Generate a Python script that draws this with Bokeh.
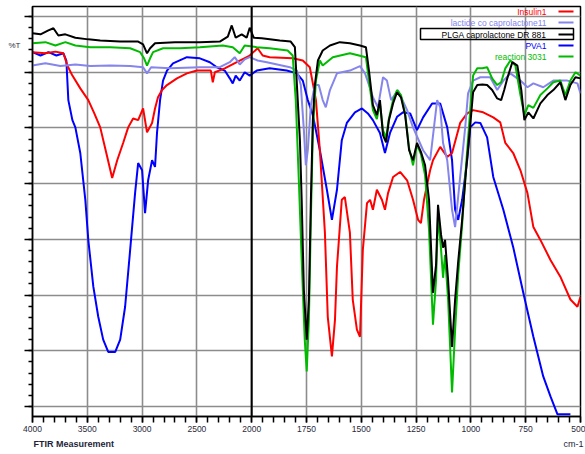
import numpy as np
from bokeh.plotting import figure
from bokeh.models import Range1d, FixedTicker, Span, Label, BoxAnnotation, ColumnDataSource
from bokeh.embed import file_html
from bokeh.resources import INLINE

# Wavenumber ticks of the split FTIR axis (scale doubles below 2000 cm-1)
tick_wavenumbers = [4000, 3500, 3000, 2500, 2000, 1750, 1500, 1250, 1000, 750, 500]

# Insulin1
insulin_wn = [4000, 3882, 3791, 3718, 3682, 3636, 3564, 3491, 3436, 3382, 3318, 3273, 3227, 3173,
              3127, 3082, 3036, 2991, 2955, 2909, 2882, 2855, 2818, 2773, 2682, 2591, 2500, 2409,
              2373, 2355, 2336, 2246, 2109, 2018, 1973, 1950, 1918, 1813, 1767, 1735, 1721, 1707,
              1689, 1666, 1653, 1634, 1620, 1611, 1589, 1575, 1552, 1539, 1520, 1506, 1493, 1474,
              1460, 1447, 1429, 1406, 1392, 1378, 1355, 1323, 1291, 1264, 1241, 1228, 1214, 1186,
              1173, 1140, 1108, 1086, 1049, 1017, 990, 944, 898, 866, 843, 807, 774, 742, 715, 683,
              637, 592, 546, 514, 500]
insulin_t = [63.6, 63.4, 63.7, 63.4, 61.2, 59.4, 57.1, 55.0, 52.6, 50.1, 44.8, 41.0, 44.2, 47.3,
             50.1, 51.7, 51.4, 53.5, 49.2, 50.9, 53.5, 55.5, 56.8, 57.7, 58.9, 59.8, 60.3, 60.3,
             60.3, 58.2, 60.0, 60.7, 62.1, 63.0, 64.3, 63.0, 62.7, 62.5, 62.1, 60.9, 58.0, 55.0,
             46.0, 31.2, 16.1, 9.0, 15.6, 25.1, 37.1, 37.6, 31.2, 19.2, 13.8, 12.5, 28.1, 36.5,
             37.1, 35.3, 38.9, 37.1, 35.3, 38.3, 41.2, 42.1, 40.6, 37.1, 33.5, 32.9, 37.1, 42.4,
             44.2, 46.6, 44.8, 45.5, 50.9, 52.6, 53.2, 52.8, 51.9, 51.0, 47.3, 45.5, 42.4, 38.3,
             32.2, 29.9, 26.3, 23.3, 19.2, 17.9, 19.7]

# lactide co caprolactone11
lactide_wn = [4000, 3882, 3745, 3609, 3473, 3291, 3109, 2991, 2955, 2918, 2745, 2473, 2291, 2200,
              2155, 2109, 2064, 2018, 1973, 1931, 1826, 1794, 1776, 1762, 1753, 1744, 1730, 1712,
              1694, 1676, 1662, 1643, 1611, 1552, 1506, 1483, 1465, 1447, 1424, 1401, 1383, 1364,
              1333, 1291, 1264, 1218, 1186, 1154, 1140, 1127, 1108, 1086, 1072, 1049, 1026, 1013,
              990, 957, 912, 880, 852, 820, 774, 742, 715, 670, 624, 560, 514, 500]
lactide_t = [61.2, 61.6, 61.1, 61.4, 61.1, 61.2, 61.1, 60.9, 59.8, 60.9, 60.7, 60.9, 60.9, 61.8,
             62.7, 61.4, 62.3, 62.7, 62.1, 61.8, 60.9, 60.3, 57.7, 49.6, 43.3, 46.0, 54.1, 57.7,
             57.7, 55.0, 53.7, 56.8, 59.8, 60.3, 61.1, 59.8, 57.7, 55.5, 53.7, 59.1, 58.5, 55.0,
             56.8, 53.2, 50.1, 46.0, 44.2, 55.0, 53.7, 47.3, 44.2, 35.3, 32.2, 41.2, 50.1, 56.2,
             58.5, 59.1, 59.1, 56.8, 58.5, 59.8, 58.5, 57.3, 58.0, 57.3, 58.5, 58.5, 58.0, 56.2]

# PLGA caprolactone DR 881
plga_wn = [4000, 3927, 3855, 3809, 3764, 3700, 3609, 3491, 3382, 3200, 3036, 2991, 2955, 2927,
           2882, 2700, 2473, 2291, 2218, 2182, 2146, 2091, 2046, 2018, 1991, 1954, 1872, 1822,
           1803, 1790, 1780, 1772, 1762, 1749, 1739, 1730, 1721, 1712, 1698, 1676, 1643, 1598,
           1552, 1506, 1479, 1465, 1447, 1429, 1415, 1401, 1387, 1374, 1355, 1337, 1319, 1300,
           1282, 1264, 1246, 1228, 1209, 1191, 1173, 1159, 1150, 1136, 1127, 1118, 1104, 1086,
           1072, 1058, 1040, 1022, 1003, 990, 971, 948, 926, 903, 880, 862, 848, 834, 811, 788,
           770, 756, 738, 715, 683, 651, 624, 592, 569, 546, 523, 500]
plga_t = [67.0, 66.8, 67.5, 67.9, 66.6, 66.8, 66.2, 65.9, 65.7, 65.5, 65.5, 65.0, 63.4, 64.3,
          65.2, 65.4, 65.4, 65.5, 66.4, 68.4, 66.2, 66.8, 66.2, 68.0, 66.2, 66.1, 65.7, 65.5,
          64.5, 55.0, 47.8, 37.1, 20.9, 12.0, 19.2, 37.1, 51.4, 57.7, 62.1, 63.9, 64.8, 65.4,
          65.2, 64.8, 64.5, 60.3, 54.1, 52.3, 55.0, 48.7, 47.4, 51.4, 54.4, 56.4, 55.5, 52.3,
          46.0, 44.2, 47.3, 45.7, 43.3, 37.1, 20.4, 25.4, 36.2, 30.8, 28.5, 29.9, 22.7, 10.7,
          19.2, 26.0, 33.5, 42.4, 50.5, 56.4, 57.7, 57.8, 57.7, 56.8, 55.3, 55.0, 56.8, 58.9,
          61.8, 61.2, 56.8, 51.4, 52.8, 51.7, 54.4, 55.9, 56.8, 58.2, 55.0, 57.7, 59.1, 58.9]

# PVA1
pva_wn = [4000, 3927, 3855, 3782, 3718, 3691, 3673, 3636, 3609, 3564, 3518, 3491, 3445, 3400,
          3355, 3309, 3245, 3200, 3155, 3109, 3064, 3036, 3000, 2973, 2945, 2909, 2882, 2864,
          2836, 2809, 2773, 2718, 2591, 2473, 2382, 2318, 2246, 2200, 2173, 2146, 2109, 2064,
          2018, 1977, 1918, 1840, 1794, 1767, 1744, 1721, 1689, 1657, 1634, 1611, 1589, 1566,
          1529, 1497, 1470, 1447, 1415, 1392, 1369, 1337, 1310, 1277, 1246, 1218, 1177, 1140,
          1108, 1086, 1072, 1058, 1040, 1017, 1003, 980, 957, 926, 898, 852, 807, 761, 715, 670,
          637, 605, 546]
pva_t = [63.6, 63.0, 63.6, 63.0, 63.4, 62.1, 55.0, 51.4, 50.1, 45.5, 37.1, 29.9, 21.5, 16.1,
         12.0, 9.8, 9.8, 12.0, 17.9, 28.1, 38.3, 43.7, 42.4, 34.7, 40.6, 44.2, 43.0, 49.1,
         55.0, 58.5, 60.3, 61.6, 62.7, 62.5, 61.8, 60.9, 60.3, 58.9, 58.0, 59.4, 58.5, 60.0,
         59.4, 60.3, 60.7, 60.3, 59.8, 58.5, 55.0, 52.3, 46.0, 38.9, 33.5, 38.9, 47.8, 50.9,
         52.8, 53.5, 52.6, 51.4, 49.1, 45.5, 49.1, 52.0, 52.8, 52.6, 49.6, 51.9, 54.4, 54.4,
         50.1, 44.2, 35.3, 33.5, 37.1, 44.2, 50.1, 51.0, 50.9, 48.3, 41.2, 35.3, 28.6, 20.4,
         12.5, 5.4, 1.8, -1.4, -1.4]

# reaction 3031
reaction_wn = [4000, 3882, 3791, 3700, 3609, 3473, 3291, 3109, 3018, 2982, 2955, 2927, 2900, 2809,
               2655, 2473, 2264, 2173, 2109, 2064, 1977, 1918, 1836, 1813, 1799, 1785, 1772, 1758,
               1749, 1739, 1730, 1721, 1707, 1689, 1676, 1630, 1552, 1479, 1465, 1447, 1429, 1415,
               1401, 1387, 1374, 1355, 1337, 1319, 1300, 1282, 1264, 1246, 1228, 1209, 1191, 1173,
               1159, 1150, 1136, 1127, 1118, 1104, 1086, 1072, 1058, 1040, 1022, 1003, 990, 971,
               948, 926, 903, 880, 862, 843, 820, 797, 774, 756, 738, 715, 683, 651, 624, 592, 569,
               546, 523, 500]
reaction_t = [65.2, 65.4, 64.8, 65.4, 64.8, 64.5, 64.5, 64.3, 63.6, 62.5, 61.2, 62.5, 63.6, 64.3,
              64.3, 64.5, 64.8, 64.5, 63.4, 64.8, 64.5, 64.3, 63.9, 63.0, 55.0, 40.6, 26.3, 12.0,
              6.3, 15.6, 33.5, 49.6, 58.5, 62.1, 61.2, 62.7, 63.4, 62.7, 58.5, 53.2, 51.6, 54.4,
              49.6, 48.2, 51.7, 55.0, 56.8, 55.9, 52.6, 46.4, 43.3, 47.0, 45.3, 41.5, 31.7, 14.7,
              22.7, 34.4, 28.1, 23.1, 27.2, 19.2, 2.5, 13.8, 23.6, 32.6, 43.3, 53.2, 59.4, 60.7,
              60.7, 60.9, 58.9, 57.7, 58.2, 60.7, 62.1, 61.2, 55.9, 52.3, 54.1, 53.6, 55.9, 57.1,
              58.2, 58.5, 55.9, 58.5, 60.0, 59.4]

series = [
    ("Insulin1", insulin_wn, insulin_t, "#ff0000"),
    ("lactide co caprolactone11", lactide_wn, lactide_t, "#8585ec"),
    ("PLGA caprolactone DR 881", plga_wn, plga_t, "#000000"),
    ("PVA1", pva_wn, pva_t, "#0000ff"),
    ("reaction 3031", reaction_wn, reaction_t, "#00bb00"),
]


def axis_pos(w):
    """Map wavenumber onto the split axis: 1 unit per cm-1 above 2000, 2 below."""
    w = np.asarray(w, dtype=float)
    return np.where(w >= 2000, 4000 - w, 2000 + 2 * (2000 - w))


p = figure(width=585, height=454, output_backend="svg", toolbar_location=None,
           x_range=Range1d(0, 5000), y_range=Range1d(-1.8, 71.8),
           min_border_left=32, min_border_right=5, min_border_top=6, min_border_bottom=37)
p.outline_line_color = "black"
p.outline_line_width = 1.5
p.background_fill_color = "white"

major_pos = [float(v) for v in axis_pos(tick_wavenumbers)]
p.xaxis.ticker = FixedTicker(ticks=major_pos, minor_ticks=list(range(0, 5001, 100)))
p.xaxis.major_label_overrides = {pos: str(w) for pos, w in zip(major_pos, tick_wavenumbers)}
p.xaxis.major_label_text_font_size = "8.5px"
p.xaxis.major_label_text_font = "Liberation Sans"
p.xaxis.major_label_text_color = "#2a2a3a"
p.xaxis.major_label_standoff = 3
p.xaxis.major_tick_out = 6
p.xaxis.minor_tick_out = 6
p.xaxis.major_tick_in = 0
p.xaxis.minor_tick_in = 0
p.xaxis.axis_line_width = 1.5
p.xaxis.major_tick_line_width = 1.5
p.xaxis.minor_tick_line_width = 1.5

y_major = list(range(0, 71, 10))
p.yaxis.ticker = FixedTicker(ticks=y_major, minor_ticks=list(range(0, 72, 2)))
p.yaxis.major_label_overrides = {v: "" for v in y_major}
p.yaxis.major_tick_out = 8
p.yaxis.minor_tick_out = 4
p.yaxis.major_tick_in = 0
p.yaxis.minor_tick_in = 0
p.yaxis.axis_line_width = 1.5
p.yaxis.major_tick_line_width = 1.5
p.yaxis.minor_tick_line_width = 1.5

for g in (p.xgrid, p.ygrid):
    g.grid_line_color = "#8c8c8c"
    g.grid_line_width = 1.6

# boundary of the expanded region
p.add_layout(Span(location=float(axis_pos(2000)), dimension="height",
                  line_color="black", line_width=2))

draw_order = [3, 0, 1, 4, 2]
for i in draw_order:
    name, wn, tr, color = series[i]
    src = ColumnDataSource(dict(x=axis_pos(wn), y=tr))
    p.line("x", "y", source=src, line_color=color, line_width=2)

font = "Liberation Sans"
# texts outside the frame live in the side panels
p.add_layout(Label(x=8, y=45, x_units="canvas", y_units="canvas", text="%T",
                   text_font=font, text_font_size="8px", text_baseline="middle",
                   text_color="#2a2a3a"), "left")
p.add_layout(Label(x=33, y=443, x_units="canvas", y_units="canvas", text="FTIR Measurement",
                   text_font=font, text_font_size="9px", text_font_style="bold",
                   text_baseline="middle", text_color="#1e1e3a"), "below")
p.add_layout(Label(x=583, y=443, x_units="canvas", y_units="canvas", text="cm-1",
                   text_font=font, text_font_size="9px", text_baseline="middle",
                   text_align="right", text_color="#1e1e3a"), "below")

# legend: right-aligned names with a colour sample to their right
row_y = [405, 394, 382, 371, 360]
for (name, wn, tr, color), ry in zip(series, row_y):
    p.add_layout(Label(x=514, y=ry, x_units="screen", y_units="screen", text=name,
                       text_font=font, text_font_size="8.5px", text_baseline="middle",
                       text_align="right", text_color=color))
    p.add_layout(BoxAnnotation(left=526, right=541, top=ry + 1, bottom=ry - 1,
                               left_units="screen", right_units="screen",
                               top_units="screen", bottom_units="screen",
                               fill_color=color, fill_alpha=1, line_color=None))
# selection box around the highlighted entry
p.add_layout(BoxAnnotation(left=388, right=541, top=388, bottom=377,
                           left_units="screen", right_units="screen",
                           top_units="screen", bottom_units="screen",
                           fill_alpha=0, line_color="black", line_width=1.5, line_alpha=1))

open("out.html", "w").write(file_html(p, INLINE))
